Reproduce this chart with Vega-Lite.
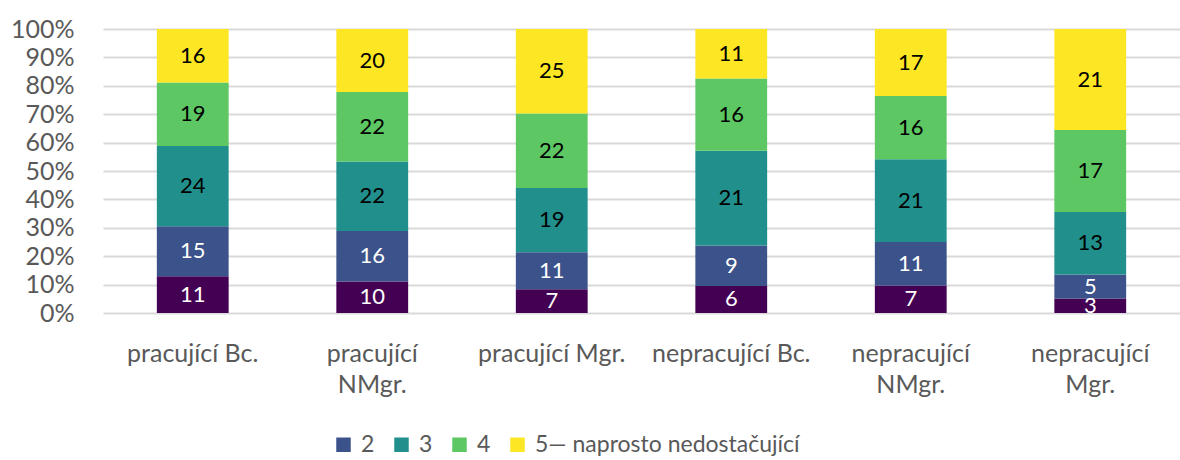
{
  "$schema": "https://vega.github.io/schema/vega-lite/v6.json",
  "autosize": {"type": "none"},
  "padding": {"left": 103, "top": 29, "right": 0, "bottom": 147},
  "width": 1077,
  "height": 284,
  "background": "white",
  "config": {
    "view": {"stroke": null},
    "font": "Lato",
    "axis": {"labelFont": "Lato", "labelColor": "#595959", "domain": false, "ticks": false, "title": null},
    "legend": {"labelFont": "Lato"}
  },
  "data": {
    "values": [
      {"cat": "pracující Bc.", "s": "1", "v": 11},
      {"cat": "pracující Bc.", "s": "2", "v": 15},
      {"cat": "pracující Bc.", "s": "3", "v": 24},
      {"cat": "pracující Bc.", "s": "4", "v": 19},
      {"cat": "pracující Bc.", "s": "5— naprosto nedostačující", "v": 16},
      {"cat": "pracující NMgr.", "s": "1", "v": 10},
      {"cat": "pracující NMgr.", "s": "2", "v": 16},
      {"cat": "pracující NMgr.", "s": "3", "v": 22},
      {"cat": "pracující NMgr.", "s": "4", "v": 22},
      {"cat": "pracující NMgr.", "s": "5— naprosto nedostačující", "v": 20},
      {"cat": "pracující Mgr.", "s": "1", "v": 7},
      {"cat": "pracující Mgr.", "s": "2", "v": 11},
      {"cat": "pracující Mgr.", "s": "3", "v": 19},
      {"cat": "pracující Mgr.", "s": "4", "v": 22},
      {"cat": "pracující Mgr.", "s": "5— naprosto nedostačující", "v": 25},
      {"cat": "nepracující Bc.", "s": "1", "v": 6},
      {"cat": "nepracující Bc.", "s": "2", "v": 9},
      {"cat": "nepracující Bc.", "s": "3", "v": 21},
      {"cat": "nepracující Bc.", "s": "4", "v": 16},
      {"cat": "nepracující Bc.", "s": "5— naprosto nedostačující", "v": 11},
      {"cat": "nepracující NMgr.", "s": "1", "v": 7},
      {"cat": "nepracující NMgr.", "s": "2", "v": 11},
      {"cat": "nepracující NMgr.", "s": "3", "v": 21},
      {"cat": "nepracující NMgr.", "s": "4", "v": 16},
      {"cat": "nepracující NMgr.", "s": "5— naprosto nedostačující", "v": 17},
      {"cat": "nepracující Mgr.", "s": "1", "v": 3},
      {"cat": "nepracující Mgr.", "s": "2", "v": 5},
      {"cat": "nepracující Mgr.", "s": "3", "v": 13},
      {"cat": "nepracující Mgr.", "s": "4", "v": 17},
      {"cat": "nepracující Mgr.", "s": "5— naprosto nedostačující", "v": 21}
    ]
  },
  "transform": [
    {"stack": "v", "groupby": ["cat"], "sort": [{"field": "s", "order": "ascending"}], "as": ["v0", "v1"], "offset": "normalize"},
    {"calculate": "(datum.v0 + datum.v1) / 2", "as": "mid"}
  ],
  "encoding": {
    "x": {
      "field": "cat",
      "type": "nominal",
      "sort": null,
      "scale": {"paddingInner": 0.6, "paddingOuter": 0.3},
      "axis": {"labelAngle": 0, "labelPadding": 28, "labelLineHeight": 31, "labelFontSize": 25, "labelLimit": 0,
        "labelExpr": "indexof(datum.label, 'NMgr') >= 0 || datum.label == 'nepracující Mgr.' ? split(datum.label, ' ') : datum.label"}
    }
  },
  "layer": [
    {
      "mark": {"type": "bar"},
      "encoding": {
        "y": {"field": "v0", "type": "quantitative", "scale": {"domain": [0, 1], "nice": false},
          "axis": {"values": [0, 0.1, 0.2, 0.3, 0.4, 0.5, 0.6, 0.7, 0.8, 0.9, 1], "format": ".0%", "labelPadding": 29, "labelFontSize": 25, "labelOverlap": false, "labelBound": false, "labelFlush": false,
            "grid": true, "gridColor": "#d9d9d9", "gridWidth": 2}},
        "y2": {"field": "v1"},
        "color": {
          "field": "s", "type": "nominal",
          "scale": {"domain": ["1", "2", "3", "4", "5— naprosto nedostačující"], "range": ["#440154", "#3b528b", "#21908d", "#5dc863", "#fde725"]},
          "legend": {"values": ["2", "3", "4", "5— naprosto nedostačující"], "title": null, "orient": "none", "direction": "horizontal",
            "legendX": 229, "legendY": 404, "symbolType": "square", "symbolSize": 210, "symbolStrokeWidth": 0, "symbolOpacity": 1,
            "labelFontSize": 23, "labelColor": "#595959", "labelOffset": 6, "columnPadding": 15, "labelLimit": 0}
        }
      }
    },
    {
      "mark": {"type": "text", "fontSize": 22, "baseline": "middle", "align": "center"},
      "encoding": {
        "y": {"field": "mid", "type": "quantitative",
          "axis": {"values": [0, 0.1, 0.2, 0.3, 0.4, 0.5, 0.6, 0.7, 0.8, 0.9, 1], "format": ".0%", "labelPadding": 29, "labelFontSize": 25, "labelOverlap": false, "labelBound": false, "labelFlush": false,
            "grid": true, "gridColor": "#d9d9d9", "gridWidth": 2}},
        "text": {"field": "v", "type": "quantitative"},
        "color": {"condition": {"test": "datum.s == '1' || datum.s == '2'", "value": "white"}, "value": "black"}
      }
    }
  ]
}
